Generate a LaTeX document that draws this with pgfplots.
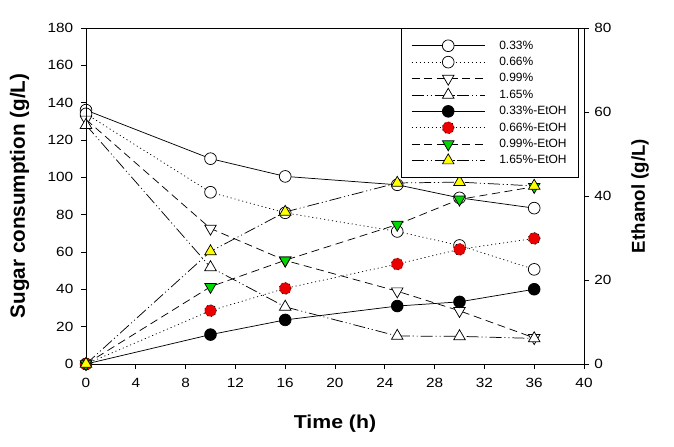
\documentclass[border=0pt]{standalone}
\usepackage{pgfplots}
\pgfplotsset{compat=1.18}
\usepackage{fontspec}
\setmainfont{Liberation Sans}
\definecolor{mred}{RGB}{235,0,0}
\definecolor{mgreen}{RGB}{0,215,0}
\definecolor{myellow}{RGB}{255,255,0}
\tikzset{
 ldot/.style={dash pattern=on 0.8pt off 2.2pt},
 ldash/.style={dash pattern=on 6pt off 3.5pt},
 ldd/.style={dash pattern=on 9pt off 2.2pt on 0.8pt off 2.2pt on 0.8pt off 2.2pt},
}
\pgfplotsset{
 common/.style={
  scale only axis, width=373.5pt, height=252pt,
  xmin=0, xmax=40,
  tick align=outside, major tick length=3.75pt,
  axis line style={line width=0.7pt},
  tick style={black, line width=0.6pt},
  ticklabel style={font=\fontsize{10}{12}\selectfont, xscale=1.15},
  /pgf/number format/assume math mode=true,
 },
 sug/.style={black, line width=0.55pt, mark size=4.4pt, mark options={solid, fill=white, draw=black, line width=0.55pt}},
 tri/.style={black, line width=0.55pt, mark=triangle*, mark size=5pt, mark options={solid, fill=#1, draw=black, line width=0.55pt}},
 trid/.style={black, line width=0.55pt, mark=triangle*, mark size=5pt, mark options={solid, rotate=180, fill=#1, draw=black, line width=0.55pt}},
}
\begin{document}
\begin{tikzpicture}
\path[use as bounding box] (-64.5pt,-61.5pt) rectangle (441pt,273pt);
\begin{axis}[common,
  ymin=0, ymax=180, ytick={0,20,...,180},
  xtick={0,4,...,40},
  xtick pos=left, ytick pos=left,
  xticklabel style={yshift=-3.5pt},
  yticklabel style={xshift=-1.5pt},
  xlabel={Time (h)}, ylabel={Sugar consumption (g/L)},
  xlabel style={font=\fontsize{14}{16}\selectfont\bfseries, xscale=1.14, at={(axis description cs:0.5,-0.1905)}, anchor=base},
  ylabel style={font=\fontsize{15.5}{18}\selectfont\bfseries, at={(axis description cs:-0.1335,0.5)}, anchor=center},
]
\addplot[sug, mark=*] coordinates {(0,136) (10,110) (16,100.5) (25,96) (30,89) (36,83.5)};
\addplot[sug, ldot, mark=*] coordinates {(0,134) (10,92) (16,81) (25,71) (30,63.5) (36,50.7)};
\addplot[trid=white, ldash] coordinates {(0,131) (10,72.6) (16,55.5) (25,39) (30,28.5) (36,14)};
\addplot[tri=white, ldd] coordinates {(0,128) (10,51.8) (16,30.6) (25,15) (30,14.8) (36,13.7)};
\end{axis}
\begin{axis}[common,
  ymin=0, ymax=80, ytick={0,20,...,80},
  hide x axis, ytick pos=right, yticklabel pos=right,
  ylabel={Ethanol (g/L)},
  ylabel style={font=\fontsize{14}{16}\selectfont\bfseries, at={(axis description cs:1.1124,0.5)}, anchor=center, rotate=0},
  legend image code/.code={\draw[mark repeat=2,mark phase=2] plot coordinates {(0pt,0pt) (27.5pt,0pt) (55pt,0pt)};},
  legend cell align=left,
  legend style={at={(axis description cs:0.99,1)}, anchor=north east, draw=black, line width=0.6pt, fill=white,
    font=\fontsize{9}{10}\selectfont, inner xsep=7pt, inner ysep=8pt, row sep=2.3pt,
    nodes={text height=6.5pt, text depth=1.5pt, inner ysep=1pt},
    /tikz/every odd column/.append style={column sep=8.5pt},
    /tikz/every even column/.append style={column sep=3pt}},
]
\addlegendimage{sug, mark=*}
\addlegendentry{0.33\%}
\addlegendimage{sug, ldot, mark=*}
\addlegendentry{0.66\%}
\addlegendimage{trid=white, ldash}
\addlegendentry{0.99\%}
\addlegendimage{tri=white, ldd}
\addlegendentry{1.65\%}
\addplot[sug, mark=*, mark options={fill=black}] coordinates {(0,0) (10,7) (16,10.5) (25,13.8) (30,14.8) (36,17.8)};
\addlegendentry{0.33\%-EtOH}
\addplot[sug, ldot, mark=*, mark options={fill=mred}] coordinates {(0,0) (10,12.7) (16,18) (25,23.8) (30,27.3) (36,29.9)};
\addlegendentry{0.66\%-EtOH}
\addplot[trid=mgreen, ldash] coordinates {(0,0) (10,18.4) (16,24.7) (25,33.2) (30,39.2) (36,42.2)};
\addlegendentry{0.99\%-EtOH}
\addplot[tri=myellow, ldd] coordinates {(0,0) (10,26.8) (16,36.2) (25,43.1) (30,43.3) (36,42.4)};
\addlegendentry{1.65\%-EtOH}
\end{axis}
\end{tikzpicture}
\end{document}
